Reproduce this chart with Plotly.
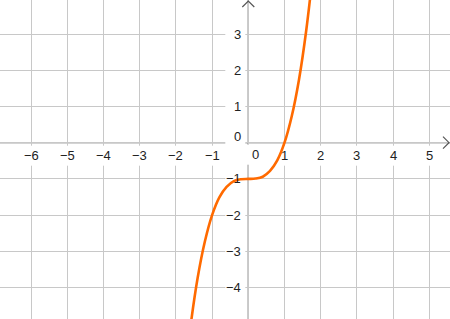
import plotly.graph_objects as go

# Values
curve_x = [-1.8, -1.6, -1.4, -1.2, -1.0, -0.8, -0.6, -0.4, -0.2, 0.0,
           0.2, 0.4, 0.6, 0.8, 1.0, 1.2, 1.4, 1.6, 1.8]
curve_y = [-6.83, -5.10, -3.74, -2.73, -2.0, -1.51, -1.22, -1.06, -1.01, -1.0,
           -0.99, -0.94, -0.78, -0.49, 0.0, 0.73, 1.74, 3.10, 4.83]

x_ticks = [-6, -5, -4, -3, -2, -1, 0, 1, 2, 3, 4, 5]
y_ticks = [-4, -3, -2, -1, 0, 1, 2, 3]

W, H = 450, 319
unit = 36.2
x0px, y0px = 248.3, 142.7
xr = [-x0px / unit, (W - x0px) / unit]
yr = [-(H - y0px) / unit, y0px / unit]

def lab(v):
    return str(v).replace("-", "\u2212")

fig = go.Figure()
fig.add_trace(go.Scatter(x=curve_x, y=curve_y, mode="lines",
                         line=dict(color="#ff6a00", width=2.6, shape="spline", smoothing=1.0),
                         hoverinfo="skip"))

shapes = []
annotations = []
font = dict(family="Liberation Sans, Arial, sans-serif", size=13, color="#222")

for v in x_ticks:
    if v == 0:
        xs, ys = 7, -12
    else:
        xs, ys = 0, -13
    shapes.append(dict(type="rect", layer="between", xref="x", yref="y",
                       xsizemode="pixel", ysizemode="pixel", xanchor=v, yanchor=0,
                       x0=xs - 10, x1=xs + 10, y0=ys - 10, y1=ys + 10,
                       fillcolor="white", line=dict(width=0)))
    annotations.append(dict(x=v, y=0, xref="x", yref="y", text=lab(v), showarrow=False,
                            xanchor="center", yanchor="middle", xshift=xs, yshift=ys, font=font))

for v in y_ticks:
    ys = 6 if v == 0 else 0
    shapes.append(dict(type="rect", layer="between", xref="x", yref="y",
                       xsizemode="pixel", ysizemode="pixel", xanchor=0, yanchor=v,
                       x0=-23, x1=-3, y0=ys - 8, y1=ys + 8,
                       fillcolor="white", line=dict(width=0)))
    annotations.append(dict(x=0, y=v, xref="x", yref="y", text=lab(v), showarrow=False,
                            xanchor="right", yanchor="middle", xshift=-5, yshift=ys, font=font))

axis_col = "#555555"
# axes
shapes.append(dict(type="line", layer="between", xref="paper", yref="y", x0=0, x1=1, y0=0, y1=0,
                   line=dict(color=axis_col, width=1.2)))
shapes.append(dict(type="line", layer="between", xref="x", yref="paper", x0=0, x1=0, y0=0, y1=1,
                   line=dict(color=axis_col, width=1.2)))
# arrow chevrons (pixel sized)
shapes.append(dict(type="path", layer="between", xref="x", yref="y",
                   xsizemode="pixel", ysizemode="pixel", xanchor=xr[1], yanchor=0,
                   path="M -7,6 L -1,0 L -7,-6", line=dict(color=axis_col, width=1.2)))
shapes.append(dict(type="path", layer="between", xref="x", yref="y",
                   xsizemode="pixel", ysizemode="pixel", xanchor=0, yanchor=yr[1],
                   path="M -6,-7 L 0,-1 L 6,-7", line=dict(color=axis_col, width=1.2)))

fig.update_layout(
    width=W, height=H, margin=dict(l=0, r=0, t=0, b=0),
    paper_bgcolor="white", plot_bgcolor="white", showlegend=False,
    xaxis=dict(range=xr, dtick=1, tick0=0, showgrid=True, gridcolor="#c8c8c8", gridwidth=1,
               zeroline=False, showticklabels=False, ticks="", fixedrange=True),
    yaxis=dict(range=yr, dtick=1, tick0=0, showgrid=True, gridcolor="#c8c8c8", gridwidth=1,
               zeroline=False, showticklabels=False, ticks="", fixedrange=True),
    shapes=shapes, annotations=annotations,
)

fig.write_html("out.html", config=dict(displayModeBar=False))
